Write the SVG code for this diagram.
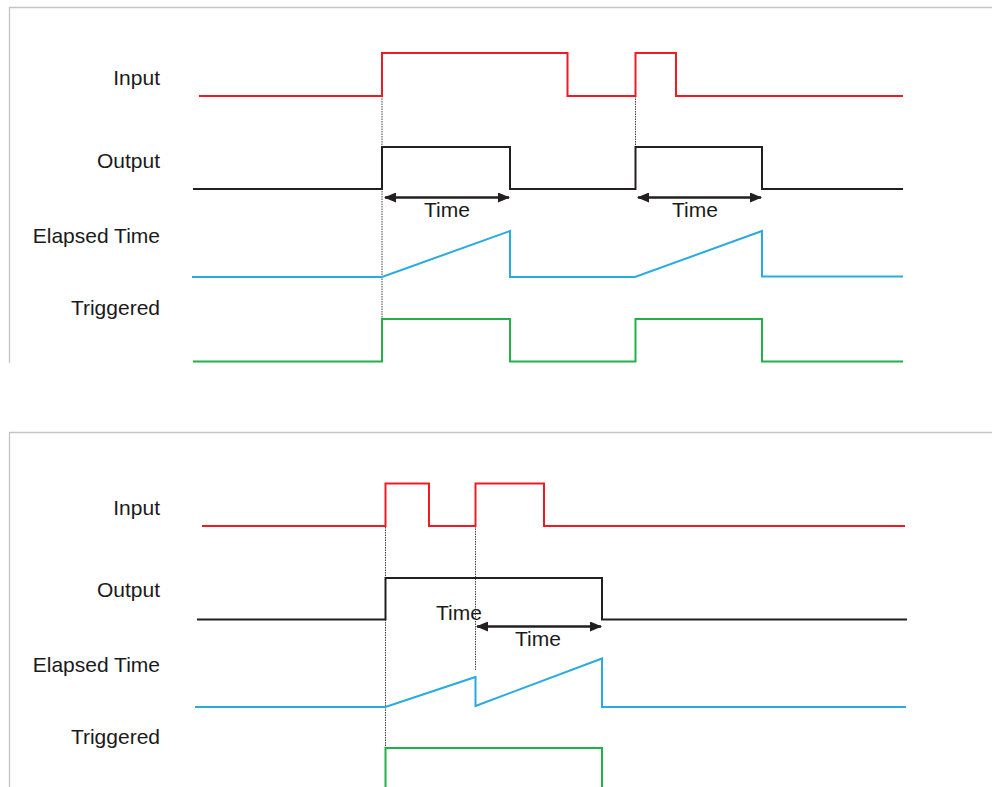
<svg xmlns="http://www.w3.org/2000/svg" width="998" height="787" viewBox="0 0 998 787">
<defs>
<style>
.lbl{font-family:"Liberation Sans",Arial,sans-serif;font-size:21px;fill:#1a1a1a}
.lr{text-anchor:end}
.tm{text-anchor:middle}
.sig{fill:none;stroke-width:2;stroke-linejoin:miter}
.red{stroke:#ed1c24}
.blk{stroke:#231f20}
.blu{stroke:#29abe2}
.grn{stroke:#22b04b}
.frame{fill:none;stroke:#c4c4c4;stroke-width:1.3}
.dot{stroke:#444;stroke-width:1;stroke-dasharray:1.5 1;fill:none}
.arr{stroke:#231f20;stroke-width:2.4;fill:none;marker-start:url(#ah);marker-end:url(#ah)}
</style>
<marker id="ah" viewBox="0 0 12 10" refX="11" refY="5" markerWidth="12" markerHeight="10" markerUnits="userSpaceOnUse" orient="auto-start-reverse">
<path d="M0,0 L12,5 L0,10 z" fill="#231f20"/>
</marker>
</defs>
<rect width="998" height="787" fill="#fff"/>

<g id="panel-top">
<path class="frame" d="M9.5,363 V7.5 H992"/>
<g id="top-dotted">
<path class="dot" d="M382,96 V361"/>
<path class="dot" d="M635.5,96 V147"/>
</g>
<g id="top-input">
<text class="lbl lr" x="160" y="85">Input</text>
<path class="sig red" d="M199,96 H382 V53 H567.5 V96 H635.5 V53 H676 V96 H903"/>
</g>
<g id="top-output">
<text class="lbl lr" x="160" y="168">Output</text>
<path class="sig blk" d="M193,189 H382 V147 H510 V189 H635.5 V147 H762 V189 H903"/>
</g>
<g id="top-time">
<path class="arr" d="M385,197.5 H509"/>
<text class="lbl tm" x="447" y="217">Time</text>
<path class="arr" d="M638,197.5 H761"/>
<text class="lbl tm" x="695" y="217">Time</text>
</g>
<g id="top-elapsed">
<text class="lbl lr" x="160" y="243">Elapsed Time</text>
<path class="sig blu" d="M192,277 H382 L510,231 V277 H635 L762,231 V276.5 H903"/>
</g>
<g id="top-triggered">
<text class="lbl lr" x="160" y="315">Triggered</text>
<path class="sig grn" d="M193,361.5 H382 V319 H510 V361.5 H635.5 V319 H762 V361.5 H903"/>
</g>
</g>

<g id="panel-bottom">
<path class="frame" d="M9.5,787 V432.5 H992"/>
<g id="bottom-dotted">
<path class="dot" d="M385.5,517 V787"/>
<path class="dot" d="M475.5,526 V670"/>
</g>
<g id="bottom-input">
<text class="lbl lr" x="160" y="515">Input</text>
<path class="sig red" d="M202,526 H385.5 V483.5 H429 V526 H475.5 V483.5 H544 V526 H905"/>
</g>
<g id="bottom-output">
<text class="lbl lr" x="160" y="597">Output</text>
<path class="sig blk" d="M197,619.5 H385.5 V578 H602 V619.5 H907"/>
</g>
<g id="bottom-time">
<text class="lbl tm" x="459" y="620">Time</text>
<path class="arr" d="M477,626.5 H601"/>
<text class="lbl tm" x="538" y="646">Time</text>
</g>
<g id="bottom-elapsed">
<text class="lbl lr" x="160" y="672">Elapsed Time</text>
<path class="sig blu" d="M195,707 H385.5 L475.5,677 V706 L602,658.5 V707 H906"/>
</g>
<g id="bottom-triggered">
<text class="lbl lr" x="160" y="744">Triggered</text>
<path class="sig grn" d="M385.5,790 V748 H602 V790"/>
</g>
</g>
</svg>
